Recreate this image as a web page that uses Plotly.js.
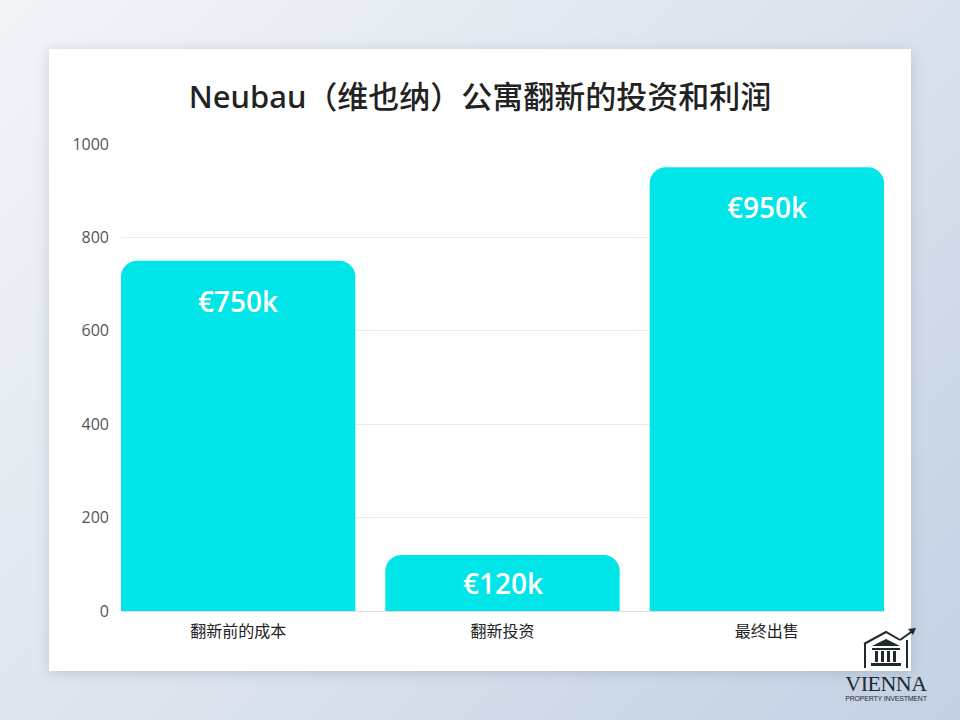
<!DOCTYPE html>
<html><head><meta charset="utf-8">
<script src="https://cdn.plot.ly/plotly-3.0.1.min.js"></script>
<style>
html,body{margin:0;padding:0;width:960px;height:720px;overflow:hidden;}
body{background:linear-gradient(135deg,#f2f4f8 0%,#dde4ee 50%,#c3d1e4 100%);position:relative;font-family:"Noto Sans","Noto Sans CJK SC",sans-serif;}
#card{position:absolute;left:49px;top:49px;width:862px;height:622px;background:#fff;box-shadow:0 2px 12px rgba(90,110,140,0.25);}
#logo{position:absolute;left:836px;top:626px;width:100px;height:80px;text-align:center;}
#logo .v{font-family:"Liberation Serif","DejaVu Serif",serif;font-size:22px;color:#1f2a30;line-height:20px;margin-top:4px;letter-spacing:-0.5px;white-space:nowrap;}
#logo .p{font-family:"Liberation Sans",sans-serif;font-size:7px;color:#1f2a30;line-height:10px;letter-spacing:-0.2px;white-space:nowrap;}
</style></head>
<body>
<div id="card"></div>
<div id="logo">
<svg width="60" height="44" viewBox="0 0 60 44" style="display:block;margin:0 auto 0 auto;">
 <polyline points="8,18 30,6 44,14" fill="none" stroke="#1f2a30" stroke-width="2"/>
 <polyline points="44,14 58,4" fill="none" stroke="#1f2a30" stroke-width="2"/>
 <polygon points="60,2 52,3 57,9" fill="#1f2a30"/>
 <rect x="8" y="18" width="2" height="24" fill="#1f2a30"/>
 <rect x="50" y="14" width="2" height="28" fill="#1f2a30"/>
 <polygon points="16,20 30,13 44,20" fill="#1f2a30"/>
 <rect x="16" y="22" width="28" height="2" fill="#1f2a30"/>
 <rect x="19" y="25" width="3" height="11" fill="#1f2a30"/>
 <rect x="25" y="25" width="3" height="11" fill="#1f2a30"/>
 <rect x="31" y="25" width="3" height="11" fill="#1f2a30"/>
 <rect x="37" y="25" width="3" height="11" fill="#1f2a30"/>
 <rect x="15" y="37" width="30" height="3" fill="#1f2a30"/>
</svg>
<div class="v">VIENNA</div>
<div class="p">PROPERTY INVESTMENT</div>
</div>
<div id="chart" style="position:absolute;left:49px;top:49px;width:862px;height:622px;"></div>
<script>
const categories = ["翻新前的成本", "翻新投资", "最终出售"];
const values = [750, 120, 950];
const labels = ["€750k", "€120k", "€950k"];
const yTicks = [0, 200, 400, 600, 800, 1000];

const BARGAP = 0.1135;
const PLOT_H = 622 - 95 - 60;

const trace = {
  type: "bar",
  x: categories,
  y: values,
  marker: {color: "#00e5e8", cornerradius: 16},
  hoverinfo: "none"
};

const annotations = categories.map((c, i) => {
  const hpx = values[i] / 1000 * PLOT_H;
  return {
    x: c, y: values[i], xref: "x", yref: "y",
    text: labels[i], showarrow: false,
    yanchor: "middle", yshift: -Math.min(40, hpx / 2),
    font: {family: "Open Sans, Noto Sans, sans-serif", size: 28, color: "#ffffff", weight: 600}
  };
});

const layout = {
  width: 862, height: 622,
  margin: {l: 72, r: 27, t: 95, b: 60},
  paper_bgcolor: "rgba(0,0,0,0)",
  plot_bgcolor: "#ffffff",
  bargap: BARGAP,
  showlegend: false,
  title: {
    text: "Neubau（维也纳）公寓翻新的投资和利润",
    font: {family: "Noto Sans, Noto Sans CJK SC, sans-serif", size: 31, color: "#222222", weight: 500},
    x: 0.5, xanchor: "center", y: 0.922, yanchor: "middle"
  },
  xaxis: {
    type: "category",
    range: [-0.5 + BARGAP / 2, 2.5 - BARGAP / 2],
    tickfont: {family: "Noto Sans CJK SC, sans-serif", size: 16, color: "#222222"},
    showgrid: false, showline: false, ticks: "",
    ticklabelstandoff: 9
  },
  yaxis: {
    range: [0, 1000],
    tickvals: yTicks,
    ticktext: yTicks.map(String),
    tickfont: {family: "Open Sans, Noto Sans, sans-serif", size: 16, color: "#555555"},
    gridcolor: "#ebebeb", gridwidth: 1,
    zeroline: true, zerolinecolor: "#dddddd", zerolinewidth: 1,
    showline: false, ticks: "", ticklen: 0,
    ticklabelstandoff: 11,
    automargin: false
  },
  annotations: annotations
};

Plotly.newPlot("chart", [trace], layout, {displayModeBar: false, staticPlot: true});
</script>
</body></html>
